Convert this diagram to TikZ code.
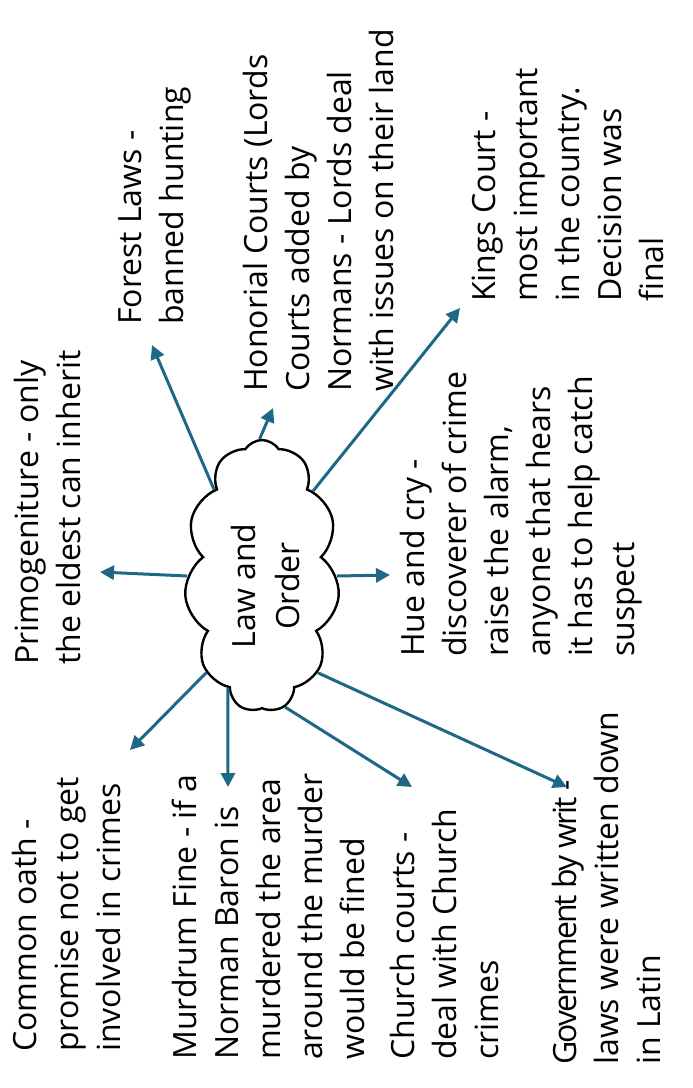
\documentclass[tikz,border=0pt]{standalone}
\usepackage{fontspec}
\setmainfont{Open Sans}
\usetikzlibrary{shapes.symbols,arrows.meta}
\definecolor{arr}{RGB}{31,103,135}
\begin{document}
\begin{tikzpicture}[x=1pt,y=-1pt,
  txt/.style={rotate=90,anchor=north west,inner sep=0pt,align=left,font=\fontsize{32}{42}\selectfont},
  arrline/.style={draw=arr,line width=3pt,-{Triangle[length=14pt,width=14pt]}}]
\useasboundingbox (0,0) rectangle (693,1088);
\node[cloud, draw, line width=2.4pt, cloud puffs=11, cloud puff arc=115, cloud ignores aspect,
      minimum width=155pt, minimum height=272pt, inner sep=0pt] (cloud) at (262,576) {};
\node[rotate=90, align=center, inner sep=0pt, font=\fontsize{32}{44}\selectfont] (lbl) at (265,586) {Law and\\Order};

\node[txt] (primo) at (14,665) {Primogeniture - only\\the eldest can inherit};
\node[txt] (forest) at (118,325) {Forest Laws -\\banned hunting};
\node[txt] (honor) at (243,392) {Honorial Courts (Lords\\Courts added by\\Normans - Lords deal\\with issues on their land};
\node[txt] (kings) at (472,302) {Kings Court -\\most important\\in the country.\\Decision was\\final};
\node[txt] (hue) at (400,657) {Hue and cry -\\discoverer of crime\\raise the alarm,\\anyone that hears\\it has to help catch\\suspect};
\node[txt] (oath) at (12,1052) {Common oath -\\promise not to get\\involved in crimes};
\node[txt] (murd) at (172,1060) {Murdrum Fine - if a\\Norman Baron is\\murdered the area\\around the murder\\would be fined};
\node[txt] (church) at (390,1060) {Church courts -\\deal with Church\\crimes};
\node[txt] (gov) at (552,1065) {{\addfontfeature{LetterSpace=-6}Government by writ -}\\laws were written down\\in Latin};

\coordinate (tPrimo) at (100,572);
\coordinate (tForest) at (152,345);
\coordinate (tHonor) at (273,408);
\coordinate (tKings) at (460,308);
\coordinate (tHue) at (390,575);
\coordinate (tOath) at (130,750);
\coordinate (tMurd) at (228,787);
\coordinate (tChurch) at (412,787);
\coordinate (tGov) at (567,787);

\draw[arrline] (cloud.180) -- (tPrimo);
\draw[arrline] (cloud.119) -- (tForest);
\draw[arrline] (cloud.91) -- (tHonor);
\draw[arrline] (cloud.59) -- (tKings);
\draw[arrline] (cloud.0) -- (tHue);
\draw[arrline] (cloud.240) -- (tOath);
\draw[arrline] (cloud.253) -- (tMurd);
\draw[arrline] (cloud.280) -- (tChurch);
\draw[arrline] (cloud.300) -- (tGov);
\end{tikzpicture}
\end{document}
